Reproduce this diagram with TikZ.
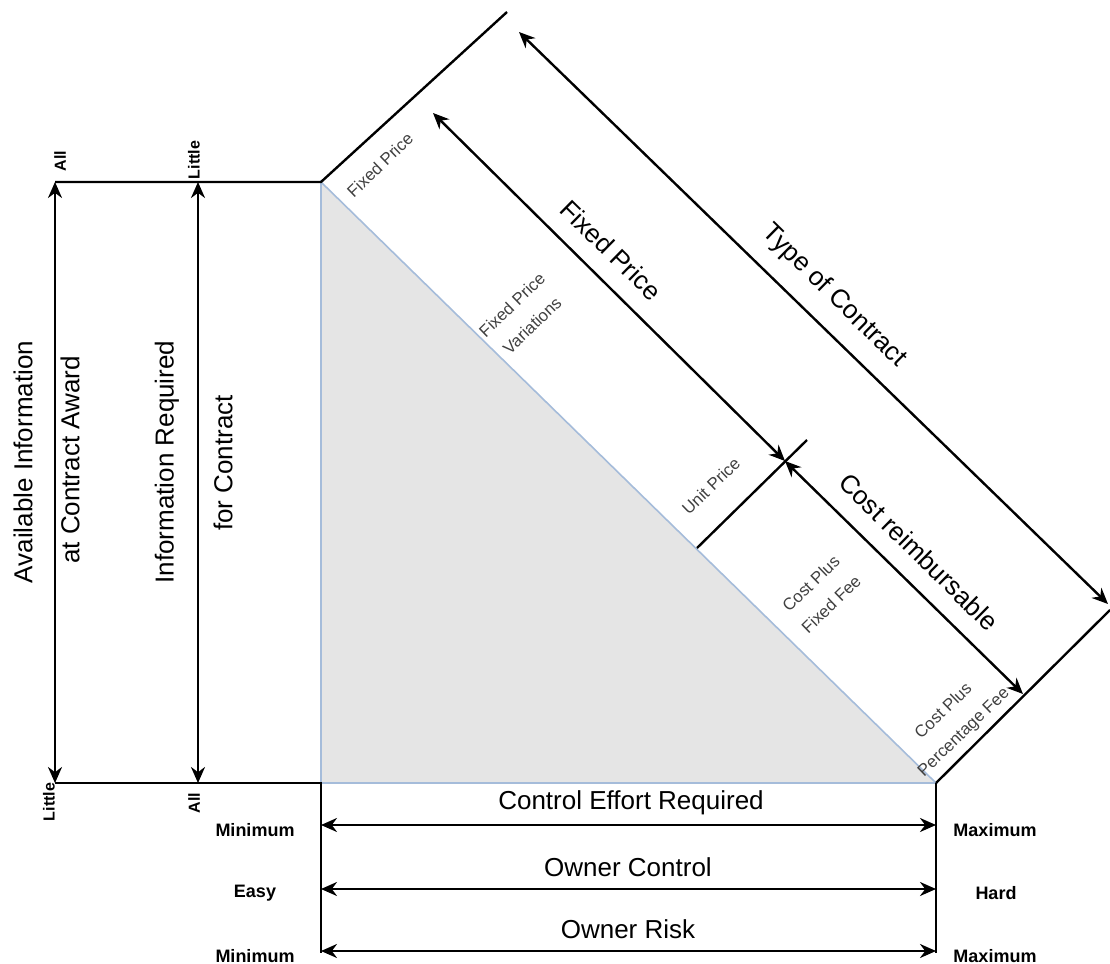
\documentclass[tikz,border=0pt]{standalone}
\usepackage{fontspec}
\setmainfont{Liberation Sans}
\usetikzlibrary{arrows.meta}
\definecolor{edgeblue}{RGB}{165,188,218}
\definecolor{shadegray}{RGB}{229,229,229}
\tikzset{
  frame/.style={line width=1.2pt},
  dimline/.style={line width=1.2pt,{Stealth[length=8pt,width=7pt]}-{Stealth[length=8pt,width=7pt]}},
  bigtext/.style={font=\fontsize{13}{15}\selectfont},
  typetext/.style={font=\fontsize{8.4}{14.5}\selectfont,text=black!75,align=center,rotate=44},
  endtext/.style={font=\bfseries\fontsize{9}{11}\selectfont},
  sidetext/.style={font=\bfseries\fontsize{8}{10}\selectfont,rotate=90},
}
\begin{document}
\begin{tikzpicture}[x=0.5pt,y=-0.5pt]
\useasboundingbox (0,0) rectangle (1110,964);
% corners of the triangle
\coordinate (top) at (321,182);
\coordinate (bl) at (321,783);
\coordinate (br) at (936,783);
\fill[shadegray] (top) -- (bl) -- (br) -- cycle;
\draw[edgeblue,line width=0.8pt] (top) -- (bl) -- (br) -- cycle;
% frame
\coordinate (lt) at (55,182);
\coordinate (lb) at (55,783);
\coordinate (mt) at (198,182);
\coordinate (mb) at (198,783);
\coordinate (topend) at (507,12);
\coordinate (brend) at (1110,610);
\coordinate (blbot) at (321,953);
\coordinate (brbot) at (936,953);
\draw[frame] (lt) -- (top) -- (topend);
\draw[frame] (lb) -- (bl) -- (blbot);
\draw[frame] (br) -- (brbot);
\draw[frame] (br) -- (brend);
% split between fixed price and cost reimbursable
\coordinate (ua) at (697,548);
\coordinate (ub) at (807,440);
\draw[frame] (ua) -- (ub);
% dimension arrows
\draw[dimline] (lt) -- (lb);
\draw[dimline] (mt) -- (mb);
\foreach \y/\n in {825/a,889/b,951/c}{
  \coordinate (h\n1) at (321,\y);
  \coordinate (h\n2) at (936,\y);
  \draw[dimline] (h\n1) -- (h\n2);
}
\coordinate (fp1) at (433,113);
\coordinate (fp2) at (785,461);
\coordinate (cr2) at (1023,694);
\coordinate (tc1) at (519,32);
\coordinate (tc2) at (1108,604);
\draw[dimline] (fp1) -- (fp2);
\draw[dimline] (fp2) -- (cr2);
\draw[dimline] (tc1) -- (tc2);
% left labels
\node[bigtext,rotate=90] (avail) at (23,462) {Available Information};
\node[bigtext,rotate=90] (award) at (70,460) {at Contract Award};
\node[bigtext,rotate=90] (req) at (167,462) {Information Required};
\node[bigtext,rotate=90] (forc) at (223,463) {for Contract};
\node[sidetext] (all1) at (60,161) {All};
\node[sidetext] (lit1) at (194,160) {Little};
\node[sidetext] (lit2) at (49,802) {Little};
\node[sidetext] (all2) at (194,803) {All};
% bottom labels
\node[bigtext] (effort) at (631,803) {Control Effort Required};
\node[bigtext] (ctrl) at (628,867) {Owner Control};
\node[bigtext] (risk) at (628,929) {Owner Risk};
\node[endtext] (min1) at (255,830) {Minimum};
\node[endtext] (easy) at (255,893) {Easy};
\node[endtext] (min2) at (255,956) {Minimum};
\node[endtext] (max1) at (995,830) {Maximum};
\node[endtext] (hard) at (996,893) {Hard};
\node[endtext] (max2) at (995,956) {Maximum};
% diagonal labels
\node[bigtext,rotate=-44.5] (fixed) at (611,250) {Fixed Price};
\node[bigtext,rotate=-44.5] (type) at (834,296) {Type of Contract};
\node[bigtext,rotate=-44.5] (cost) at (919,552) {Cost reimbursable};
\node[typetext] (t1) at (380,165) {Fixed Price};
\node[typetext] (t2) at (522,315) {Fixed Price\\Variations};
\node[typetext] (t3) at (711,486) {Unit Price};
\node[typetext] (t4) at (821,594) {Cost Plus\\Fixed Fee};
\node[typetext] (t5) at (954,722) {Cost Plus\\Percentage Fee};
\end{tikzpicture}
\end{document}
